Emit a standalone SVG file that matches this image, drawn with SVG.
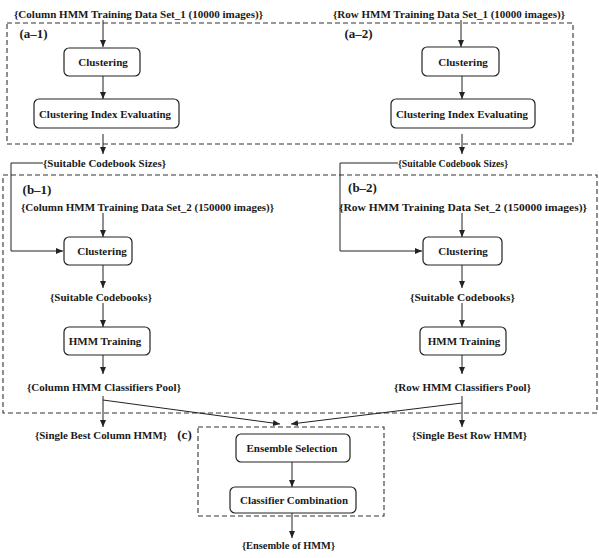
<svg xmlns="http://www.w3.org/2000/svg" width="599" height="558" viewBox="0 0 599 558">
<style>
text{font-family:"Liberation Serif","Times New Roman",serif;font-weight:bold;font-size:11px;fill:#1a1a1a;text-anchor:middle}
.lbl{font-size:13px}
.box{fill:#fff;stroke:#222;stroke-width:1.2}
.dash{fill:none;stroke:#333;stroke-width:1.1;stroke-dasharray:5 3}
.c{fill:none;stroke:#222;stroke-width:1}
</style>
<defs>
<marker id="ah" markerWidth="7" markerHeight="6" refX="7" refY="3" orient="auto" markerUnits="userSpaceOnUse">
<path d="M0,0 L7,3 L0,6 Z" fill="#222"/>
</marker>
</defs>
<rect id="frameA" class="dash" x="7" y="23" width="566" height="121"/>
<rect id="frameB" class="dash" x="3" y="175" width="594" height="238"/>
<rect id="frameC" class="dash" x="198" y="427" width="186" height="89"/>
<g id="connectors">
<line class="c" x1="103" y1="20" x2="103" y2="47" marker-end="url(#ah)"/>
<line class="c" x1="103" y1="76" x2="103" y2="99" marker-end="url(#ah)"/>
<line class="c" x1="103" y1="134" x2="103" y2="154" marker-end="url(#ah)"/>
<polyline class="c" points="43,163 11,163 11,251 63,251" marker-end="url(#ah)"/>
<line class="c" x1="103" y1="213" x2="103" y2="237" marker-end="url(#ah)"/>
<line class="c" x1="103" y1="265" x2="103" y2="288" marker-end="url(#ah)"/>
<line class="c" x1="103" y1="303" x2="103" y2="327" marker-end="url(#ah)"/>
<line class="c" x1="103" y1="355" x2="103" y2="374" marker-end="url(#ah)"/>
<line class="c" x1="103" y1="396" x2="103" y2="427" marker-end="url(#ah)"/>
<line class="c" x1="103" y1="400" x2="280" y2="424" marker-end="url(#ah)"/>
<line class="c" x1="461" y1="20" x2="461" y2="47" marker-end="url(#ah)"/>
<line class="c" x1="462" y1="76" x2="462" y2="99" marker-end="url(#ah)"/>
<line class="c" x1="462" y1="134" x2="462" y2="154" marker-end="url(#ah)"/>
<polyline class="c" points="398,163 340,163 340,251 422,251" marker-end="url(#ah)"/>
<line class="c" x1="462" y1="213" x2="462" y2="237" marker-end="url(#ah)"/>
<line class="c" x1="462" y1="265" x2="462" y2="288" marker-end="url(#ah)"/>
<line class="c" x1="462" y1="303" x2="462" y2="327" marker-end="url(#ah)"/>
<line class="c" x1="462" y1="355" x2="462" y2="374" marker-end="url(#ah)"/>
<line class="c" x1="462" y1="396" x2="462" y2="427" marker-end="url(#ah)"/>
<line class="c" x1="462" y1="403" x2="291" y2="424" marker-end="url(#ah)"/>
<line class="c" x1="292" y1="462" x2="292" y2="487" marker-end="url(#ah)"/>
<line class="c" x1="292" y1="513" x2="292" y2="538" marker-end="url(#ah)"/>
</g>
<g id="labels">
<text x="138.5" y="18" textLength="249" lengthAdjust="spacingAndGlyphs">{Column HMM Training Data Set_1 (10000 images)}</text>
<text x="449" y="18" textLength="232" lengthAdjust="spacingAndGlyphs">{Row HMM Training Data Set_1 (10000 images)}</text>
<text class="lbl" x="33.5" y="38">(a–1)</text>
<text class="lbl" x="358.5" y="38">(a–2)</text>
<text x="104.5" y="167" textLength="123" lengthAdjust="spacingAndGlyphs">{Suitable Codebook Sizes}</text>
<text x="453" y="167" textLength="110" lengthAdjust="spacingAndGlyphs">{Suitable Codebook Sizes}</text>
<text class="lbl" x="37" y="194">(b–1)</text>
<text class="lbl" x="362.5" y="192">(b–2)</text>
<text x="147.5" y="211" textLength="253" lengthAdjust="spacingAndGlyphs">{Column HMM Training Data Set_2 (150000 images)}</text>
<text x="463" y="211" textLength="248" lengthAdjust="spacingAndGlyphs">{Row HMM Training Data Set_2 (150000 images)}</text>
<text x="101" y="301" textLength="102" lengthAdjust="spacingAndGlyphs">{Suitable Codebooks}</text>
<text x="462.5" y="301" textLength="105" lengthAdjust="spacingAndGlyphs">{Suitable Codebooks}</text>
<text x="104" y="391" textLength="154" lengthAdjust="spacingAndGlyphs">{Column HMM Classifiers Pool}</text>
<text x="462.5" y="391" textLength="137" lengthAdjust="spacingAndGlyphs">{Row HMM Classifiers Pool}</text>
<text x="101" y="439" textLength="132" lengthAdjust="spacingAndGlyphs">{Single Best Column HMM}</text>
<text x="469.5" y="439" textLength="115" lengthAdjust="spacingAndGlyphs">{Single Best Row HMM}</text>
<text class="lbl" x="184.5" y="439">(c)</text>
<text x="288.5" y="549" textLength="93" lengthAdjust="spacingAndGlyphs">{Ensemble of HMM}</text>
</g>
<g id="clusteringA1"><rect class="box" x="64" y="48" width="76" height="28" rx="5"/><text x="103" y="66">Clustering</text></g>
<g id="cieA1"><rect class="box" x="34" y="99" width="145" height="29" rx="5"/><text x="105" y="118" textLength="132" lengthAdjust="spacingAndGlyphs">Clustering Index Evaluating</text></g>
<g id="clusteringA2"><rect class="box" x="422" y="47" width="77" height="29" rx="5"/><text x="463" y="66">Clustering</text></g>
<g id="cieA2"><rect class="box" x="391" y="99" width="144" height="29" rx="5"/><text x="462" y="118" textLength="132" lengthAdjust="spacingAndGlyphs">Clustering Index Evaluating</text></g>
<g id="clusteringB1"><rect class="box" x="64" y="237" width="68" height="28" rx="5"/><text x="102" y="255">Clustering</text></g>
<g id="clusteringB2"><rect class="box" x="423" y="237" width="79" height="28" rx="5"/><text x="463" y="255">Clustering</text></g>
<g id="hmmB1"><rect class="box" x="64" y="327" width="86" height="28" rx="5"/><text x="105" y="345">HMM Training</text></g>
<g id="hmmB2"><rect class="box" x="420" y="327" width="86" height="28" rx="5"/><text x="464" y="345">HMM Training</text></g>
<g id="ensembleSelection"><rect class="box" x="236" y="434" width="114" height="28" rx="5"/><text x="292" y="452" textLength="91" lengthAdjust="spacingAndGlyphs">Ensemble Selection</text></g>
<g id="classifierCombination"><rect class="box" x="230" y="487" width="126" height="26" rx="5"/><text x="294" y="504" textLength="108" lengthAdjust="spacingAndGlyphs">Classifier Combination</text></g>
</svg>
